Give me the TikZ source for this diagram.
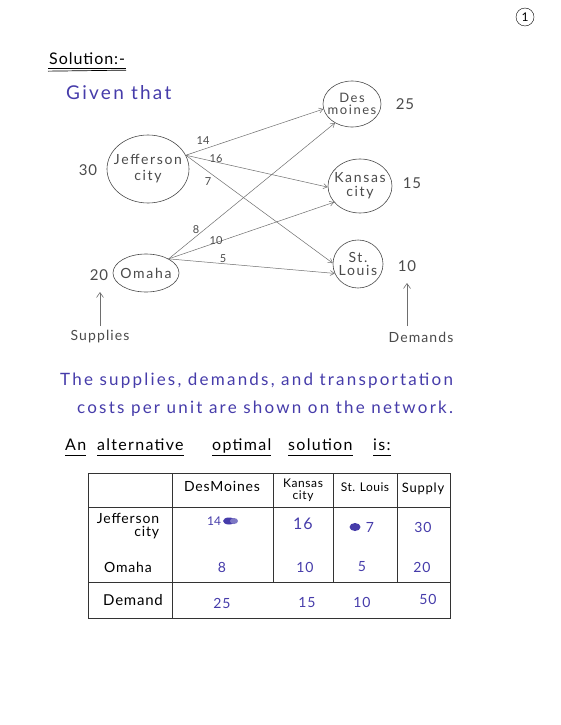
\documentclass[tikz,border=0pt]{standalone}
\usepackage{fontspec}
\setmainfont{Lato}
\usetikzlibrary{shapes.geometric,arrows.meta}
\definecolor{ink}{RGB}{70,60,170}
\definecolor{pencil}{RGB}{75,75,75}
\definecolor{edgec}{RGB}{110,110,110}
\newcommand{\fs}[2]{\fontsize{#1}{#2}\selectfont}
\tikzset{
  city/.style={draw=pencil, ellipse, inner sep=-7pt, text=pencil, align=center, line width=0.6pt},
  qty/.style={text=pencil, font=\fs{15}{15}\addfontfeature{LetterSpace=6}},
  cost/.style={text=pencil, font=\fs{11}{11}, inner sep=0pt},
  flow/.style={draw=edgec, line width=0.5pt, -{Straight Barb[length=4pt,width=5pt]}},
  upar/.style={draw=edgec, line width=0.6pt, -{Straight Barb[length=5pt,width=7pt]}},
  bluetxt/.style={text=ink, anchor=west, inner sep=0pt},
  altword/.style={anchor=base west, inner sep=0pt, font=\fs{16}{16}\addfontfeature{LetterSpace=8}},
  cell/.style={font=\fs{14}{13}\addfontfeature{LetterSpace=6}, text=black, align=center, inner sep=0pt},
  num/.style={font=\fs{14}{14}\addfontfeature{LetterSpace=6}, text=ink, inner sep=0pt},
  grid/.style={draw=black!80, line width=0.5pt}
}
\begin{document}
\begin{tikzpicture}[x=1pt,y=-1pt]
\useasboundingbox[fill=white] (0,0) rectangle (560,725);

% page number
\node[draw=black, circle, minimum size=18pt, inner sep=0pt, font=\fs{12}{12}] (pg) at (525,17) {1};

% heading
\node[anchor=west, inner sep=0pt, font=\fs{16}{16}\addfontfeature{LetterSpace=6}] (sol) at (49,59) {Solution:-};
\draw[line width=0.7pt] (sol.south west) ++(-1,3) coordinate (u1) -- ++(78,0);
\draw[line width=0.7pt] (sol.south west) ++(-1,6) coordinate (u2) -- ++(78,-1);

\node[bluetxt, font=\fs{19}{19}\addfontfeature{LetterSpace=12}] (given) at (66,93) {Given that};

% network nodes
\node[city, minimum width=58pt, minimum height=46pt, font=\fs{13}{12}\addfontfeature{LetterSpace=12}] (dm) at (352,104) {Des\\moines};
\node[city, minimum width=64pt, minimum height=54pt, font=\fs{14}{14}\addfontfeature{LetterSpace=12}] (kc) at (360,186) {Kansas\\city};
\node[city, minimum width=50pt, minimum height=48pt, font=\fs{14}{13}\addfontfeature{LetterSpace=12}] (sl) at (358,264) {St.\\Louis};
\node[city, minimum width=82pt, minimum height=68pt, font=\fs{14}{16}\addfontfeature{LetterSpace=12}] (jc) at (148,169) {Jefferson\\city};
\node[city, minimum width=66pt, minimum height=38pt, inner xsep=-12pt, font=\fs{14}{14}\addfontfeature{LetterSpace=12}] (om) at (146,273) {Omaha};

\node[qty] (q25) at (405,104) {25};
\node[qty] (q15) at (412,183) {15};
\node[qty] (q10) at (407,266) {10};
\node[qty] (q30) at (88,170) {30};
\node[qty] (q20) at (99,275) {20};

% edges
\draw[flow] (jc.20) -- (dm.190);
\draw[flow] (jc.20) -- (kc.182);
\draw[flow] (jc.20) -- (sl.178);
\draw[flow] (om.32) -- (dm.228);
\draw[flow] (om.32) -- (kc.212);
\draw[flow] (om.32) -- (sl.202);

\node[cost] (c14) at (203,141) {14};
\node[cost] (c16) at (216,159) {16};
\node[cost] (c7) at (208,182) {7};
\node[cost] (c8) at (196,230) {8};
\node[cost] (c10) at (216,241) {10};
\node[cost] (c5) at (223,259) {5};

% supplies / demands
\node[text=pencil, font=\fs{14}{14}\addfontfeature{LetterSpace=8}] (sup) at (100,337) {Supplies};
\node[text=pencil, font=\fs{14}{14}\addfontfeature{LetterSpace=8}] (dem) at (421,337) {Demands};
\draw[upar] (100,326) coordinate (sa) -- (100,292) coordinate (sb);
\draw[upar] (407,326) coordinate (da) -- (407,283) coordinate (db);

% blue paragraph
\node[bluetxt, font=\fs{17}{17}\addfontfeature{LetterSpace=13}] (p1) at (60,381) {The supplies, demands, and transportation};
\node[bluetxt, font=\fs{17}{17}\addfontfeature{LetterSpace=13}] (p2) at (77,409) {costs per unit are shown on the network.};

% alternative solution heading
\node[altword] (w1) at (65,450) {An};
\node[altword] (w2) at (97,450) {alternative};
\node[altword] (w3) at (212,450) {optimal};
\node[altword] (w4) at (288,450) {solution};
\node[altword] (w5) at (373,450) {is:};
\foreach \w in {w1,w2,w3,w4,w5}{
  \draw[line width=0.6pt] ([yshift=-5pt]\w.base west) -- ([yshift=-5pt]\w.base east);
}

% table
\draw[grid] (88,473) rectangle (450,618);
\draw[grid] (172,473) -- (172,618);
\draw[grid] (88,507) -- (450,507);
\draw[grid] (88,582) -- (450,582);
\draw[grid] (273,473) -- (273,582);
\draw[grid] (333,473) -- (333,582);
\draw[grid] (397,473) -- (397,582);

\node[cell] (hdm) at (222,486) {DesMoines};
\node[cell, font=\fs{12}{12}\addfontfeature{LetterSpace=5}] (hkc) at (303,490) {Kansas\\city};
\node[cell, font=\fs{12}{12}\addfontfeature{LetterSpace=4}] (hsl) at (365,487) {St. Louis};
\node[cell, font=\fs{13}{13}\addfontfeature{LetterSpace=6}] (hsu) at (423,489) {Supply};

\node[cell, align=right] (rjc) at (128,526) {Jefferson\\city};
\node[cell] (rom) at (128,567) {Omaha};
\node[cell, font=\fs{15}{15}\addfontfeature{LetterSpace=5}] (rde) at (133,600) {Demand};

\node[num, font=\fs{12}{12}] (v11) at (214,521) {14};
\fill[ink] (229,521) ellipse (6pt and 3.5pt);
\fill[ink!70] (234,521) ellipse (4pt and 3pt);
\node[num, font=\fs{16}{16}\addfontfeature{LetterSpace=6}] (v12) at (303,524) {16};
\fill[ink] (355,527) ellipse (5.5pt and 4pt);
\node[num] (v13) at (370,527) {7};
\node[num] (v14) at (423,527) {30};

\node[num] (v21) at (222,567) {8};
\node[num] (v22) at (305,567) {10};
\node[num] (v23) at (362,567) {5};
\node[num] (v24) at (422,567) {20};

\node[num] (v31) at (222,603) {25};
\node[num] (v32) at (307,603) {15};
\node[num] (v33) at (362,602) {10};
\node[num] (v34) at (428,599) {50};
\end{tikzpicture}
\end{document}
